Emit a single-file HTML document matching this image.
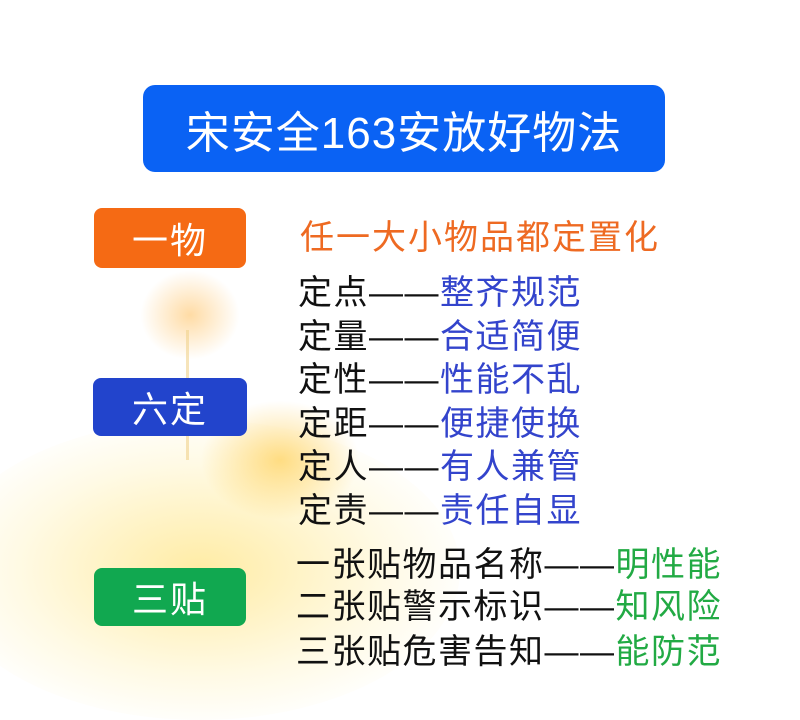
<!DOCTYPE html>
<html><head><meta charset="utf-8"><style>
body{margin:0;width:800px;height:705px;background:#fff;position:relative;overflow:hidden;font-family:"Liberation Sans","Noto Sans CJK SC",sans-serif}
.bg{position:absolute;border-radius:50%}
.box{position:absolute;color:#fff;display:flex;align-items:center;justify-content:center;border-radius:8px;font-size:36px;letter-spacing:2px}
.t{position:absolute;font-size:34px;white-space:nowrap;line-height:40px;letter-spacing:1.5px}
.k{color:#111}.b{color:#3344cc}.g{color:#22aa44}
</style></head><body>
<div class="bg" style="left:-60px;top:420px;width:520px;height:300px;background:radial-gradient(ellipse at center,rgba(255,220,90,0.55),rgba(255,235,150,0.25) 50%,rgba(255,255,255,0) 75%)"></div>
<div class="bg" style="left:200px;top:400px;width:160px;height:120px;background:radial-gradient(ellipse at center,rgba(255,200,60,0.6),rgba(255,255,255,0) 70%)"></div>
<div class="bg" style="left:140px;top:270px;width:100px;height:90px;background:radial-gradient(ellipse at center,rgba(255,190,90,0.55),rgba(255,255,255,0) 70%)"></div>
<div style="position:absolute;left:186px;top:330px;width:3px;height:130px;background:rgba(240,210,140,0.6)"></div>
<div class="box" style="left:143px;top:85px;width:522px;height:87px;background:#0a62f4;border-radius:12px;font-size:44px;letter-spacing:1px">宋安全163安放好物法</div>
<div class="box" style="left:94px;top:208px;width:152px;height:60px;background:#f56a14">一物</div>
<div class="box" style="left:93px;top:378px;width:154px;height:58px;background:#2244cc">六定</div>
<div class="box" style="left:94px;top:568px;width:152px;height:58px;background:#11a850">三贴</div>
<div class="t" style="left:300px;top:218px;color:#ee6a22;letter-spacing:2px">任一大小物品都定置化</div>
<div class="t k" style="left:298px;top:273px">定点——<span class="b">整齐规范</span></div>
<div class="t k" style="left:298px;top:317px">定量——<span class="b">合适简便</span></div>
<div class="t k" style="left:298px;top:360px">定性——<span class="b">性能不乱</span></div>
<div class="t k" style="left:298px;top:404px">定距——<span class="b">便捷使换</span></div>
<div class="t k" style="left:298px;top:447px">定人——<span class="b">有人兼管</span></div>
<div class="t k" style="left:298px;top:491px">定责——<span class="b">责任自显</span></div>
<div class="t k" style="left:296px;top:545px">一张贴物品名称——<span class="g">明性能</span></div>
<div class="t k" style="left:296px;top:587px">二张贴警示标识——<span class="g">知风险</span></div>
<div class="t k" style="left:296px;top:632px">三张贴危害告知——<span class="g">能防范</span></div>
</body></html>
